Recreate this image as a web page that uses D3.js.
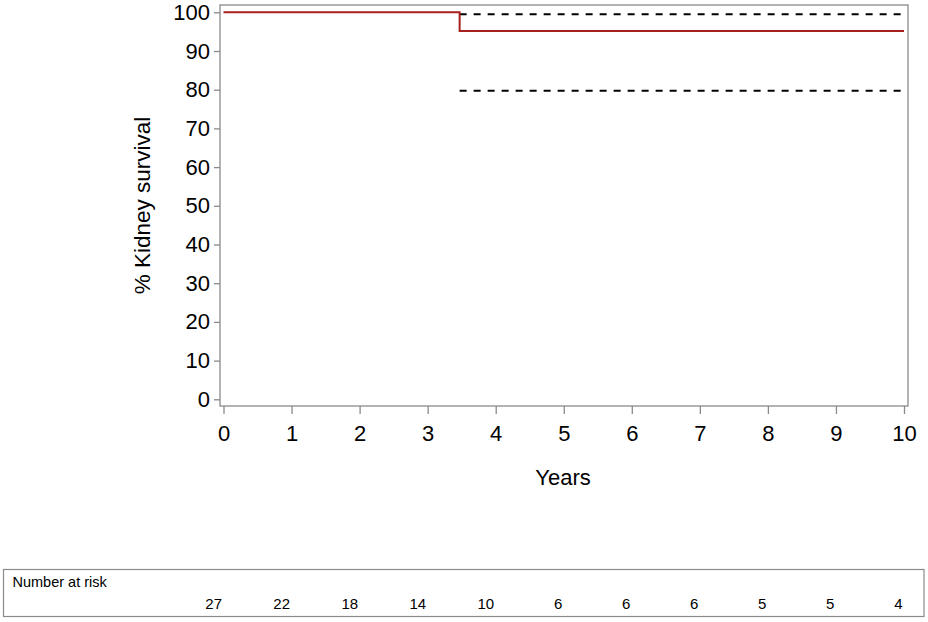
<!DOCTYPE html>
<html>
<head>
<meta charset="utf-8">
<script src="https://cdn.jsdelivr.net/npm/d3@7"></script>
<style>
  html, body { margin: 0; padding: 0; background: #fff; }
  svg { display: block; font-family: "Liberation Sans", Arial, Helvetica, sans-serif; }
</style>
</head>
<body>
<svg id="chart" width="928" height="622"></svg>
<script>
// ---- data ----
const stepTimes = [0, 3.47, 10];
const survival = [100, 95.2, 95.2];
const ciTimes = [3.47, 10];
const ciUpper = [99.5, 99.5];
const ciLower = [79.7, 79.7];
const xTicks = [0, 1, 2, 3, 4, 5, 6, 7, 8, 9, 10];
const yTicks = [0, 10, 20, 30, 40, 50, 60, 70, 80, 90, 100];
const riskTimes = [0, 1, 2, 3, 4, 5, 6, 7, 8, 9, 10];
const atRisk = [27, 22, 18, 14, 10, 6, 6, 6, 5, 5, 4];

const svg = d3.select("#chart");
const frame = { left: 220, right: 908, top: 5, bottom: 406 };
const x = d3.scaleLinear().domain([0, 10]).range([223.5, 904]);
const y = d3.scaleLinear().domain([0, 100]).range([399.3, 12.3]);
const axisColor = "#8a8a8a";

// frame
svg.append("rect")
  .attr("x", frame.left).attr("y", frame.top)
  .attr("width", frame.right - frame.left).attr("height", frame.bottom - frame.top)
  .attr("fill", "none").attr("stroke", axisColor).attr("stroke-width", 1.3);

// x axis
const xAxis = svg.append("g")
  .attr("transform", `translate(0,${frame.bottom})`)
  .call(d3.axisBottom(x).tickValues(xTicks).tickSize(8).tickPadding(11).tickFormat(d3.format("d")));
xAxis.select(".domain").remove();
xAxis.selectAll(".tick line").attr("stroke", axisColor).attr("stroke-width", 1.3);
xAxis.selectAll(".tick text").attr("fill", "#000").attr("font-size", 22)
  .attr("font-family", "Liberation Sans, Arial, sans-serif");

// y axis
const yAxis = svg.append("g")
  .attr("transform", `translate(${frame.left},0)`)
  .call(d3.axisLeft(y).tickValues(yTicks).tickSize(6).tickPadding(4).tickFormat(d3.format("d")));
yAxis.select(".domain").remove();
yAxis.selectAll(".tick line").attr("stroke", axisColor).attr("stroke-width", 1.3);
yAxis.selectAll(".tick text").attr("fill", "#000").attr("font-size", 22)
  .attr("font-family", "Liberation Sans, Arial, sans-serif");

// axis labels
svg.append("text")
  .attr("transform", `translate(150,${(frame.top + frame.bottom) / 2}) rotate(-90)`)
  .attr("text-anchor", "middle").attr("font-size", 22.5).attr("fill", "#000")
  .text("% Kidney survival");
svg.append("text")
  .attr("x", 563).attr("y", 485)
  .attr("text-anchor", "middle").attr("font-size", 22).attr("fill", "#000")
  .text("Years");

// confidence limits (dashed)
const ciLine = d3.line().x(d => x(d[0])).y(d => y(d[1])).curve(d3.curveStepAfter);
[ciUpper, ciLower].forEach(arr => {
  svg.append("path")
    .attr("d", ciLine(ciTimes.map((t, i) => [t, arr[i]])))
    .attr("fill", "none").attr("stroke", "#000").attr("stroke-width", 2)
    .attr("stroke-dasharray", "7,7");
});

// survival step curve
const survLine = d3.line().x(d => x(d[0])).y(d => y(d[1])).curve(d3.curveStepAfter);
svg.append("path")
  .attr("d", survLine(stepTimes.map((t, i) => [t, survival[i]])))
  .attr("fill", "none").attr("stroke", "#a8201e").attr("stroke-width", 2);

// number at risk table
svg.append("rect")
  .attr("x", 3.5).attr("y", 569.5).attr("width", 920.5).attr("height", 47)
  .attr("fill", "none").attr("stroke", axisColor).attr("stroke-width", 1.2);
svg.append("text")
  .attr("x", 12.5).attr("y", 587.3).attr("font-size", 14.5).attr("fill", "#000")
  .text("Number at risk");
svg.append("g").selectAll("text")
  .data(riskTimes.map((t, i) => ({ t, n: atRisk[i] })))
  .join("text")
  .attr("x", d => x(d.t) - 1.5).attr("y", 609.3)
  .attr("text-anchor", "end").attr("font-size", 15).attr("fill", "#000")
  .text(d => d.n);
</script>
</body>
</html>
